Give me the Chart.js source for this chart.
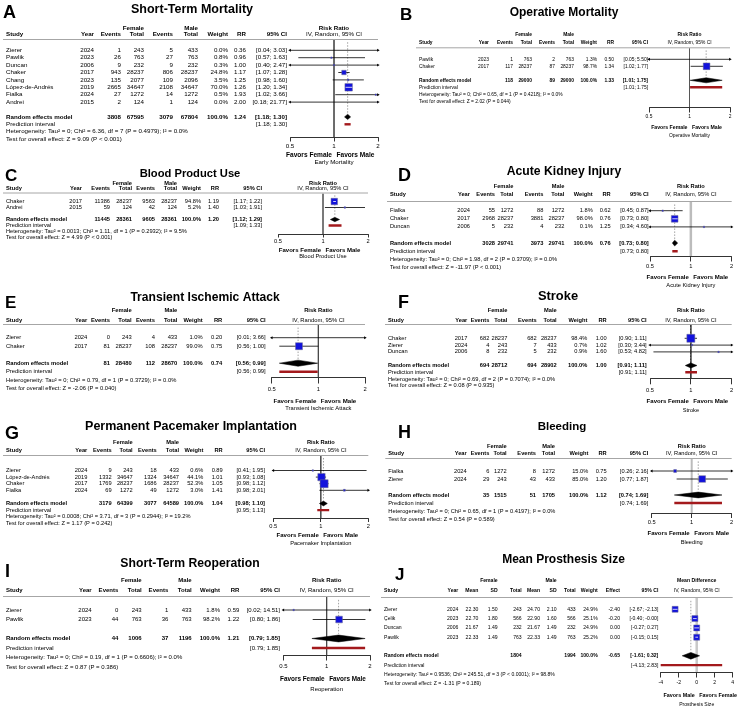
<!DOCTYPE html>
<html>
<head>
<meta charset="utf-8">
<script src="https://cdn.jsdelivr.net/npm/chart.js@4.4.1/dist/chart.umd.min.js"></script>
<style>
  body { margin: 0; background: #fff; }
  #wrap { position: relative; width: 740px; height: 710px; overflow: hidden; background: #fff; }
  #wrap canvas { position: absolute; }
</style>
</head>
<body>
<div id="wrap"></div>
<script>
const FONT = '"Liberation Sans", Arial, Helvetica, sans-serif';

/* ---------- data ---------- */
// binary outcomes: study, year, female events, female total, male events, male total, weight %, RR, CI low, CI high
const mortalityRows = [
  ['Zierer', 2024, 1, 243, 5, 433, 0.0, 0.36, 0.04, 3.03],
  ['Pawlik', 2023, 26, 763, 27, 763, 0.8, 0.96, 0.57, 1.63],
  ['Duncan', 2006, 9, 232, 9, 232, 0.3, 1.00, 0.40, 2.47],
  ['Chaker', 2017, 943, 28237, 806, 28237, 24.8, 1.17, 1.07, 1.28],
  ['Chang', 2023, 135, 2077, 109, 2096, 3.5, 1.25, 0.98, 1.60],
  ['López-de-Andrés', 2019, 2665, 34647, 2108, 34647, 70.0, 1.26, 1.20, 1.34],
  ['Fialka', 2024, 27, 1272, 14, 1272, 0.5, 1.93, 1.02, 3.66],
  ['Andrei', 2015, 2, 124, 1, 124, 0.0, 2.00, 0.18, 21.77]
];
// pooled: female events, female total, male events, male total, weight, RR, low, high
const mortalityPooled = [3808, 67595, 3079, 67804, 100.0, 1.24, 1.18, 1.30];
const mortalityPI = [1.18, 1.30];

const operativeRows = [
  ['Pawlik', 2023, 1, 763, 2, 763, 1.3, 0.50, 0.05, 5.50],
  ['Chaker', 2017, 117, 28237, 87, 28237, 98.7, 1.34, 1.02, 1.77]
];
const operativePooled = [118, 29000, 89, 29000, 100.0, 1.33, 1.01, 1.75];
const operativePI = [1.01, 1.75];

const bloodRows = [
  ['Chaker', 2017, 11386, 28237, 9563, 28237, 94.8, 1.19, 1.17, 1.22],
  ['Andrei', 2015, 59, 124, 42, 124, 5.2, 1.40, 1.03, 1.91]
];
const bloodPooled = [11445, 28361, 9605, 28361, 100.0, 1.20, 1.12, 1.29];
const bloodPI = [1.09, 1.33];

const kidneyRows = [
  ['Fialka', 2024, 55, 1272, 88, 1272, 1.8, 0.62, 0.45, 0.87],
  ['Chaker', 2017, 2968, 28237, 3881, 28237, 98.0, 0.76, 0.73, 0.80],
  ['Duncan', 2006, 5, 232, 4, 232, 0.1, 1.25, 0.34, 4.60]
];
const kidneyPooled = [3028, 29741, 3973, 29741, 100.0, 0.76, 0.73, 0.80];
const kidneyPI = [0.73, 0.80];

const tiaRows = [
  ['Zierer', 2024, 0, 243, 4, 433, 1.0, 0.20, 0.01, 3.66],
  ['Chaker', 2017, 81, 28237, 108, 28237, 99.0, 0.75, 0.56, 1.00]
];
const tiaPooled = [81, 28480, 112, 28670, 100.0, 0.74, 0.56, 0.99];
const tiaPI = [0.56, 0.99];

const strokeRows = [
  ['Chaker', 2017, 682, 28237, 682, 28237, 98.4, 1.00, 0.90, 1.11],
  ['Zierer', 2024, 4, 243, 7, 433, 0.7, 1.02, 0.30, 3.44],
  ['Duncan', 2006, 8, 232, 5, 232, 0.9, 1.60, 0.53, 4.82]
];
const strokePooled = [694, 28712, 694, 28902, 100.0, 1.00, 0.91, 1.11];
const strokePI = [0.91, 1.11];

const pacemakerRows = [
  ['Zierer', 2024, 9, 243, 18, 433, 0.6, 0.89, 0.41, 1.95],
  ['López-de-Andrés', 2019, 1332, 34647, 1324, 34647, 44.1, 1.01, 0.93, 1.08],
  ['Chaker', 2017, 1769, 28237, 1686, 28237, 52.3, 1.05, 0.98, 1.12],
  ['Fialka', 2024, 69, 1272, 49, 1272, 3.0, 1.41, 0.98, 2.01]
];
const pacemakerPooled = [3179, 64399, 3077, 64589, 100.0, 1.04, 0.98, 1.10];
const pacemakerPI = [0.95, 1.13];

const bleedingRows = [
  ['Fialka', 2024, 6, 1272, 8, 1272, 15.0, 0.75, 0.26, 2.16],
  ['Zierer', 2024, 29, 243, 43, 433, 85.0, 1.20, 0.77, 1.87]
];
const bleedingPooled = [35, 1515, 51, 1705, 100.0, 1.12, 0.74, 1.69];
const bleedingPI = [0.74, 1.69];

const reopRows = [
  ['Zierer', 2024, 0, 243, 1, 433, 1.8, 0.59, 0.02, 14.51],
  ['Pawlik', 2023, 44, 763, 36, 763, 98.2, 1.22, 0.80, 1.86]
];
const reopPooled = [44, 1006, 37, 1196, 100.0, 1.21, 0.79, 1.85];
const reopPI = [0.79, 1.85];

// continuous outcome: study, year, F mean, F sd, F total, M mean, M sd, M total, weight %, MD, CI low, CI high
const sizeRows = [
  ['Zierer', 2024, 22.30, 1.50, 243, 24.70, 2.10, 433, 24.9, -2.40, -2.67, -2.13],
  ['Çelik', 2023, 22.70, 1.80, 566, 22.90, 1.60, 566, 25.1, -0.20, -0.40, -0.004],
  ['Duncan', 2006, 21.67, 1.49, 232, 21.67, 1.49, 232, 24.9, 0.00, -0.27, 0.27],
  ['Pawlik', 2023, 22.33, 1.49, 763, 22.33, 1.49, 763, 25.2, 0.00, -0.15, 0.15]
];
// pooled: female total, male total, weight, MD, low, high
const sizePooled = [1804, 1994, 100.0, -0.65, -1.61, 0.32];
const sizePI = [-4.13, 2.83];

const rrTicks = [0.5, 1, 2];
const rrTickLabels = ['0.5', '1', '2'];
const mdTicks = [-4, -2, 0, 2, 4];
const mdTickLabels = ['-4', '-2', '0', '2', '4'];

const rrHeads = ['Year', 'Events', 'Total', 'Events', 'Total', 'Weight', 'RR', '95% CI'];
const mdHeads = ['Year', 'Mean', 'SD', 'Total', 'Mean', 'SD', 'Total', 'Weight', 'Effect', '95% CI'];

const panels = [
  { key: 'A', kind: 'rr', title: 'Short-Term Mortality', rows: mortalityRows, pooled: mortalityPooled, pi: mortalityPI,
    het: 'Heterogeneity: Tau² = 0; Chi² = 6.36, df = 7 (P = 0.4979); I² = 0.0%',
    test: 'Test for overall effect: Z = 9.09 (P < 0.001)', label: 'Early Mortality' },
  { key: 'B', kind: 'rr', title: 'Operative Mortality', rows: operativeRows, pooled: operativePooled, pi: operativePI,
    het: 'Heterogeneity: Tau² = 0; Chi² = 0.65, df = 1 (P = 0.4218); I² = 0.0%',
    test: 'Test for overall effect: Z = 2.02 (P = 0.044)', label: 'Operative Mortality' },
  { key: 'C', kind: 'rr', title: 'Blood Product Use', rows: bloodRows, pooled: bloodPooled, pi: bloodPI,
    het: 'Heterogeneity: Tau² = 0.0013; Chi² = 1.11, df = 1 (P = 0.2932); I² = 9.5%',
    test: 'Test for overall effect: Z = 4.99 (P < 0.001)', label: 'Blood Product Use' },
  { key: 'D', kind: 'rr', title: 'Acute Kidney Injury', rows: kidneyRows, pooled: kidneyPooled, pi: kidneyPI,
    het: 'Heterogeneity: Tau² = 0; Chi² = 1.98, df = 2 (P = 0.3709); I² = 0.0%',
    test: 'Test for overall effect: Z = -11.97 (P < 0.001)', label: 'Acute Kidney Injury' },
  { key: 'E', kind: 'rr', title: 'Transient Ischemic Attack', rows: tiaRows, pooled: tiaPooled, pi: tiaPI,
    het: 'Heterogeneity: Tau² = 0; Chi² = 0.79, df = 1 (P = 0.3729); I² = 0.0%',
    test: 'Test for overall effect: Z = -2.06 (P = 0.040)', label: 'Transient Ischemic Attack' },
  { key: 'F', kind: 'rr', title: 'Stroke', rows: strokeRows, pooled: strokePooled, pi: strokePI,
    het: 'Heterogeneity: Tau² = 0; Chi² = 0.69, df = 2 (P = 0.7074); I² = 0.0%',
    test: 'Test for overall effect: Z = 0.08 (P = 0.935)', label: 'Stroke' },
  { key: 'G', kind: 'rr', title: 'Permanent Pacemaker Implantation', rows: pacemakerRows, pooled: pacemakerPooled, pi: pacemakerPI,
    het: 'Heterogeneity: Tau² = 0.0008; Chi² = 3.71, df = 3 (P = 0.2944); I² = 19.2%',
    test: 'Test for overall effect: Z = 1.17 (P = 0.242)', label: 'Pacemaker Implantation' },
  { key: 'H', kind: 'rr', title: 'Bleeding', rows: bleedingRows, pooled: bleedingPooled, pi: bleedingPI,
    het: 'Heterogeneity: Tau² = 0; Chi² = 0.65, df = 1 (P = 0.4197); I² = 0.0%',
    test: 'Test for overall effect: Z = 0.54 (P = 0.589)', label: 'Bleeding' },
  { key: 'I', kind: 'rr', title: 'Short-Term Reoperation', rows: reopRows, pooled: reopPooled, pi: reopPI,
    het: 'Heterogeneity: Tau² = 0; Chi² = 0.19, df = 1 (P = 0.6606); I² = 0.0%',
    test: 'Test for overall effect: Z = 0.87 (P = 0.386)', label: 'Reoperation' },
  { key: 'J', kind: 'md', title: 'Mean Prosthesis Size', rows: sizeRows, pooled: sizePooled, pi: sizePI,
    het: 'Heterogeneity: Tau² = 0.9536; Chi² = 245.51, df = 3 (P < 0.0001); I² = 98.8%',
    test: 'Test for overall effect: Z = -1.31 (P = 0.189)', label: 'Prosthesis Size' }
];

/* ---------- layout (page pixels) ---------- */
const layout = {
  A: { box: [0, 0, 385, 170], fs: 6.2, letter: [3, 18, 18], title: [192, 10, 12.5], h1: 28, h2: 34.5, hline: 40,
       row0: 50.3, rowH: 7.4, axis: 137, tick: 4.5, pad: 1.5, fav: 155, lab: 162, studyX: 6,
       cols: [94, 121, 144, 173, 198, 228, 246, 287], plot: [290, 378], boxMax: 7.5, ref: ['#444', 0.8] },
  B: { box: [370, 0, 370, 150], fs: 4.9, letter: [400, 20, 17], title: [564, 13, 12], h1: 35, h2: 42.5, hline: 48.3,
       row0: 59.3, rowH: 7, axis: 107, tick: 5.5, pad: 2, fav: 127.5, lab: 135.5, studyX: 419,
       cols: [489, 513, 532, 555, 574, 597, 614, 648], plot: [649, 730], boxMax: 6.7, ref: ['#555', 0.8] },
  C: { box: [0, 165, 385, 105], fs: 5.7, letter: [5, 181, 17], title: [190, 174, 11.2], h1: 183, h2: 188.5, hline: 193.5,
       row0: 201.5, rowH: 6, axis: 234, tick: 3.5, pad: 1, fav: 250, lab: 256.5, studyX: 6,
       cols: [82, 110, 132, 155, 177, 201, 219, 262], plot: [278, 368], boxMax: 6.5, ref: ['#555', 0.8] },
  D: { box: [370, 160, 370, 135], fs: 5.7, letter: [398, 181, 18], title: [564, 172, 12.2], h1: 186.3, h2: 194.7, hline: 202,
       row0: 210.7, rowH: 8.1, axis: 256, tick: 5.5, pad: 2, fav: 277, lab: 285, studyX: 390,
       cols: [470, 495, 513.3, 543.3, 564.3, 592.7, 610.7, 648.7], plot: [650, 731.7], boxMax: 6.7, ref: ['#bcbcbc', 2.5] },
  E: { box: [0, 288, 385, 125], fs: 5.8, letter: [5, 308, 17], title: [205, 298, 12.1], h1: 310, h2: 320, hline: 325,
       row0: 337.7, rowH: 8.5, axis: 377.5, tick: 6, pad: 3, fav: 401.7, lab: 408.5, studyX: 6,
       cols: [87.3, 110, 131.7, 155, 177.3, 202.7, 222.3, 265.7], plot: [271.7, 365], boxMax: 7, ref: ['#444', 0.8] },
  F: { box: [370, 288, 370, 127], fs: 5.7, letter: [398, 308, 18], title: [558, 296, 12.9], h1: 310, h2: 320, hline: 325,
       row0: 338.3, rowH: 6.8, axis: 378.3, tick: 6, pad: 3, fav: 401.7, lab: 410, studyX: 388,
       cols: [467.3, 489.3, 507.3, 536.7, 556.7, 587.3, 606.7, 646.7], plot: [650, 731.7], boxMax: 8, ref: ['#222', 0.8] },
  G: { box: [0, 414, 385, 136], fs: 5.7, letter: [5, 439, 18], title: [191, 427, 12.5], h1: 442.7, h2: 450, hline: 456,
       row0: 470.5, rowH: 6.6, axis: 518, tick: 4, pad: 1.5, fav: 535, lab: 543, studyX: 6,
       cols: [87.3, 111.7, 132.7, 156.7, 179, 203.3, 222.7, 265], plot: [273.3, 368.3], boxMax: 8, ref: ['#444', 0.8] },
  H: { box: [370, 412, 370, 138], fs: 5.7, letter: [398, 438, 18], title: [562, 427, 11.5], h1: 446, h2: 453, hline: 459,
       row0: 471, rowH: 8, axis: 513, tick: 5, pad: 2, fav: 533, lab: 542, studyX: 388.3,
       cols: [466.7, 489.3, 506.7, 536, 555, 588.3, 606.7, 648.3], plot: [651.7, 731.7], boxMax: 6.7, ref: ['#bcbcbc', 2] },
  I: { box: [0, 552, 385, 158], fs: 6, letter: [5, 577, 18], title: [190, 564, 12.2], h1: 580, h2: 590, hline: 597,
       row0: 610, rowH: 9.5, axis: 655, tick: 5.5, pad: 3, fav: 679, lab: 689, studyX: 6,
       cols: [91.7, 118.3, 141.7, 168.3, 191.7, 220, 239.3, 280], plot: [283.3, 370], boxMax: 6.7, ref: ['#444', 0.8] },
  J: { box: [370, 548, 370, 162], fs: 5.1, letter: [395, 580, 17], title: [563.5, 560, 12], h1: 580.3, h2: 590.3, hline: 598,
       row0: 609.3, rowH: 9.3, axis: 672, tick: 5.5, pad: 2.5, fav: 696, lab: 704.5, studyX: 384,
       cols: [458.3, 478.3, 497.7, 521.7, 540, 556.7, 575.7, 597.7, 620, 658.3], plot: [660.7, 732.7], boxMax: 6, ref: ['#c8c8c8', 2.5] }
};

Chart.defaults.font.family = FONT;
Chart.defaults.color = '#000';

const f2 = v => v.toFixed(2);
const pct = v => v.toFixed(1) + '%';
const ciText = (a, b) => '[' + f2(a) + '; ' + f2(b) + ']';

function studyCells(r, md) {
  if (md) return [r[1], f2(r[2]), f2(r[3]), r[4], f2(r[5]), f2(r[6]), r[7], pct(r[8]), f2(r[9]), ciText(r[10], r[11])];
  return [r[1], r[2], r[3], r[4], r[5], pct(r[6]), f2(r[7]), ciText(r[8], r[9])];
}
function pooledCells(q, md) {
  if (md) return ['', '', '', q[0], '', '', q[1], pct(q[2]), f2(q[3]), ciText(q[4], q[5])];
  return ['', q[0], q[1], q[2], q[3], pct(q[4]), f2(q[5]), ciText(q[6], q[7])];
}

function tablePlugin(p, L) {
  const md = p.kind === 'md';
  const heads = md ? mdHeads : rrHeads;
  const groupCols = md ? [2, 5] : [2, 4];
  const n = p.rows.length;
  return {
    id: 'table' + p.key,
    afterDraw(chart) {
      const c = chart.ctx, ys = chart.scales.y, xs = chart.scales.x, area = chart.chartArea;
      const ox = L.box[0], oy = L.box[1];
      const X = v => v - ox, Y = v => v - oy;
      const font = (size, bold) => (bold ? 'bold ' : '') + size + 'px ' + FONT;
      const mid = (area.left + area.right) / 2;
      c.save();
      c.fillStyle = '#000';

      c.font = font(L.letter[2], true);
      c.textAlign = 'left'; c.textBaseline = 'alphabetic';
      c.fillText(p.key, X(L.letter[0]), Y(L.letter[1]));

      c.textBaseline = 'middle';
      c.font = font(L.title[2], true);
      c.textAlign = 'center';
      c.fillText(p.title, X(L.title[0]), Y(L.title[1]));

      // header
      c.font = font(L.fs, true);
      c.textAlign = 'right';
      c.fillText('Female', X(L.cols[groupCols[0]]), Y(L.h1));
      c.fillText('Male', X(L.cols[groupCols[1]]), Y(L.h1));
      heads.forEach((h, i) => c.fillText(h, X(L.cols[i]), Y(L.h2)));
      c.textAlign = 'left';
      c.fillText('Study', X(L.studyX), Y(L.h2));
      c.textAlign = 'center';
      c.fillText(md ? 'Mean Difference' : 'Risk Ratio', mid, Y(L.h1));
      c.font = font(L.fs, false);
      c.fillText('IV, Random, 95% CI', mid, Y(L.h2));

      c.strokeStyle = '#a6a6a6';
      c.lineWidth = 1;
      c.beginPath();
      c.moveTo(X(L.studyX) - 3, Y(L.hline) - 0.5);
      c.lineTo(area.right, Y(L.hline) - 0.5);
      c.stroke();

      // study rows
      p.rows.forEach((r, i) => {
        const y = ys.getPixelForValue(i);
        c.textAlign = 'left';
        c.fillText(r[0], X(L.studyX), y);
        c.textAlign = 'right';
        studyCells(r, md).forEach((t, j) => c.fillText(String(t), X(L.cols[j]), y));
      });

      // pooled rows
      let y = ys.getPixelForValue(n + 1);
      c.font = font(L.fs, true);
      c.textAlign = 'left';
      c.fillText('Random effects model', X(L.studyX), y);
      c.textAlign = 'right';
      pooledCells(p.pooled, md).forEach((t, j) => { if (t !== '') c.fillText(String(t), X(L.cols[j]), y); });

      c.font = font(L.fs, false);
      y = ys.getPixelForValue(n + 2);
      c.textAlign = 'left';
      c.fillText('Prediction interval', X(L.studyX), y);
      c.textAlign = 'right';
      c.fillText(ciText(p.pi[0], p.pi[1]), X(L.cols[L.cols.length - 1]), y);
      c.textAlign = 'left';
      c.fillText(p.het, X(L.studyX), ys.getPixelForValue(n + 3));
      c.fillText(p.test, X(L.studyX), ys.getPixelForValue(n + 4));

      // favours + axis label
      const nullPx = xs.getPixelForValue(md ? 0 : 1);
      c.font = font(L.fs * 1.06, true);
      c.textAlign = 'right';
      c.fillText(md ? 'Favors Male' : 'Favors Female', nullPx - 2, Y(L.fav));
      c.textAlign = 'left';
      c.fillText(md ? 'Favors Female' : 'Favors Male', nullPx + 2.5, Y(L.fav));
      c.font = font(L.fs, false);
      c.textAlign = 'center';
      c.fillText(p.label, mid, Y(L.lab));
      c.restore();
    }
  };
}

function buildPanel(p) {
  const L = layout[p.key];
  const md = p.kind === 'md';
  const [bx, by, bw, bh] = L.box;
  const canvas = document.createElement('canvas');
  canvas.width = bw; canvas.height = bh;
  canvas.style.left = bx + 'px'; canvas.style.top = by + 'px';
  document.getElementById('wrap').appendChild(canvas);

  const ix = md ? { w: 8, est: 9, lo: 10, hi: 11 } : { w: 6, est: 7, lo: 8, hi: 9 };
  const px = md ? { est: 3, lo: 4, hi: 5 } : { est: 5, lo: 6, hi: 7 };
  const ticks = md ? mdTicks : rrTicks;
  const tickLabels = md ? mdTickLabels : rrTickLabels;
  const xMin = ticks[0], xMax = ticks[ticks.length - 1];
  const nullV = md ? 0 : 1;
  const n = p.rows.length;
  const randRow = n + 1, predRow = n + 2;
  const yMin = (L.hline - L.row0) / L.rowH;
  const yMax = (L.axis - L.row0) / L.rowH;
  const maxW = Math.max(...p.rows.map(r => r[ix.w]));
  const side = w => Math.max(1.5, L.boxMax * Math.sqrt(w / maxW));

  const ciPts = [];
  const arrowPts = [];
  const arrowRot = [];
  p.rows.forEach((r, i) => {
    ciPts.push({ x: r[ix.lo], y: i }, { x: r[ix.hi], y: i }, { x: NaN, y: NaN });
    if (r[ix.lo] < xMin) { arrowPts.push({ x: xMin, y: i }); arrowRot.push(-90); }
    if (r[ix.hi] > xMax) { arrowPts.push({ x: xMax, y: i }); arrowRot.push(90); }
  });
  const boxPts = p.rows.map((r, i) => ({ x: r[ix.est], y: i }));
  const boxSides = p.rows.map(r => side(r[ix.w]));
  const q = p.pooled;
  const dh = 0.36;
  const diamond = [
    { x: q[px.lo], y: randRow }, { x: q[px.est], y: randRow - dh },
    { x: q[px.hi], y: randRow }, { x: q[px.est], y: randRow + dh },
    { x: q[px.lo], y: randRow }
  ];

  const tickFont = { size: L.fs, lineHeight: 1 };
  const axisH = L.tick + L.fs + 2 * L.pad;

  const chart = new Chart(canvas, {
    type: 'scatter',
    data: {
      datasets: [
        { type: 'line', data: [{ x: nullV, y: yMin }, { x: nullV, y: yMax }], borderColor: L.ref[0],
          borderWidth: L.ref[1], pointRadius: 0, order: 10 },
        { type: 'line', data: [{ x: q[px.est], y: yMin + 0.3 }, { x: q[px.est], y: randRow - 0.5 }],
          borderColor: '#8c8c8c', borderWidth: 0.8, borderDash: [1.5, 1.5], pointRadius: 0, order: 9 },
        { type: 'line', data: ciPts, borderColor: '#000', borderWidth: 0.8, pointRadius: 0, spanGaps: false, order: 8 },
        { type: 'line', data: [{ x: p.pi[0], y: predRow }, { x: p.pi[1], y: predRow }], borderColor: '#a3191c',
          borderWidth: 2.4, borderCapStyle: 'butt', pointRadius: 0, order: 7 },
        { type: 'scatter', data: boxPts, pointStyle: 'rect', backgroundColor: '#1212dc', borderColor: '#707090',
          borderWidth: 0.5, pointRadius: ctx => boxSides[ctx.dataIndex] / Math.SQRT2, order: 6 },
        { type: 'line', data: [], borderColor: '#fff', borderWidth: 0.8, pointRadius: 0, spanGaps: false, order: 5 },
        { type: 'scatter', data: arrowPts, pointStyle: 'triangle', backgroundColor: '#000', borderColor: '#000',
          borderWidth: 0, pointRadius: 1.7, rotation: ctx => arrowRot[ctx.dataIndex], clip: false, order: 4 },
        { type: 'line', data: diamond, fill: 'shape', backgroundColor: '#000', borderColor: '#000',
          borderWidth: 0.5, pointRadius: 0, tension: 0, order: 3 }
      ]
    },
    options: {
      responsive: false,
      animation: false,
      devicePixelRatio: 1,
      events: [],
      layout: {
        autoPadding: false,
        padding: {
          left: L.plot[0] - bx,
          right: bx + bw - L.plot[1],
          top: L.hline - by,
          bottom: bh - (L.axis - by) - axisH
        }
      },
      plugins: { legend: { display: false }, tooltip: { enabled: false } },
      scales: {
        x: {
          type: md ? 'linear' : 'logarithmic',
          min: xMin, max: xMax, bounds: 'data',
          afterBuildTicks: s => { s.ticks = ticks.map(v => ({ value: v })); },
          ticks: { font: tickFont, padding: L.pad, color: '#000', maxRotation: 0, autoSkip: false,
                   callback: (v, i) => tickLabels[i] },
          grid: { display: true, drawOnChartArea: false, drawTicks: true, tickLength: L.tick, color: '#000', lineWidth: 0.8 },
          border: { display: true, color: '#000', width: 0.8 }
        },
        y: { type: 'linear', display: false, reverse: true, min: yMin, max: yMax }
      }
    },
    plugins: [tablePlugin(p, L)]
  });

  // CI drawn in white where it sits inside its square
  const xs = chart.scales.x;
  const inside = [];
  p.rows.forEach((r, i) => {
    const w = xs.getPixelForValue(Math.min(r[ix.hi], xMax)) - xs.getPixelForValue(Math.max(r[ix.lo], xMin));
    if (w < boxSides[i]) inside.push({ x: r[ix.lo], y: i }, { x: r[ix.hi], y: i }, { x: NaN, y: NaN });
  });
  chart.data.datasets[5].data = inside;
  chart.update();
}

panels.forEach(buildPanel);
</script>
</body>
</html>
